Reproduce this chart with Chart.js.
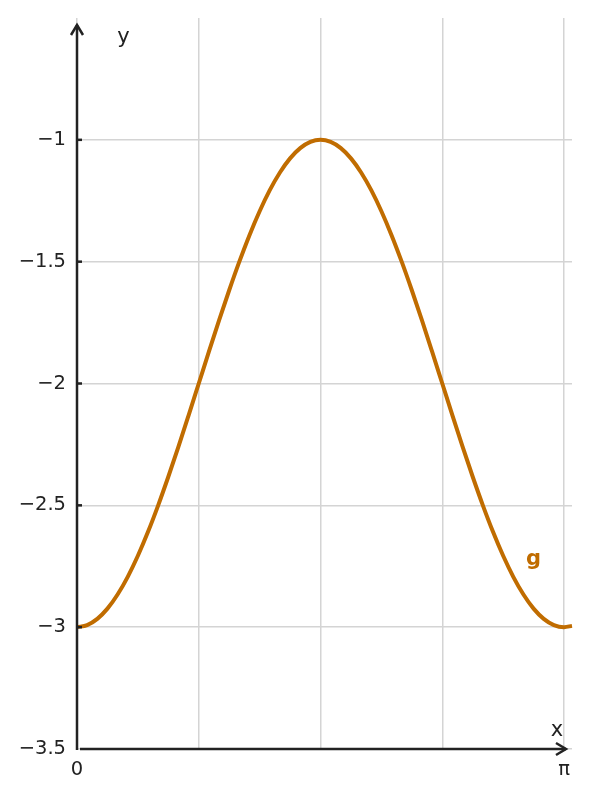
<!DOCTYPE html>
<html><head><meta charset="utf-8">
<script src="https://cdn.jsdelivr.net/npm/chart.js@4"></script>
<style>html,body{margin:0;padding:0;background:#fff}#wrap{width:591px;height:797px}</style>
</head><body><div id="wrap"><canvas id="c"></canvas></div>
<script>
// x values (radians) and g(x) values
const xValues = [0,0.0654,0.1309,0.1963,0.2618,0.3272,0.3927,0.4581,0.5236,0.5890,0.6545,0.7199,0.7854,0.8508,0.9163,0.9817,1.0472,1.1126,1.1781,1.2435,1.3090,1.3744,1.4399,1.5053,1.5708,1.6362,1.7017,1.7671,1.8326,1.8980,1.9635,2.0289,2.0944,2.1598,2.2253,2.2907,2.3562,2.4216,2.4871,2.5525,2.6180,2.6834,2.7489,2.8143,2.8798,2.9452,3.0107,3.0761,3.1416,3.193];
const gValues = [-3,-2.9914,-2.9659,-2.9239,-2.8660,-2.7934,-2.7071,-2.6088,-2.5,-2.3827,-2.2588,-2.1305,-2,-1.8695,-1.7412,-1.6173,-1.5,-1.3912,-1.2929,-1.2066,-1.1340,-1.0761,-1.0341,-1.0086,-1,-1.0086,-1.0341,-1.0761,-1.1340,-1.2066,-1.2929,-1.3912,-1.5,-1.6173,-1.7412,-1.8695,-2,-2.1305,-2.2588,-2.3827,-2.5,-2.6088,-2.7071,-2.7934,-2.8660,-2.9239,-2.9659,-2.9914,-3,-2.9947];
const xGridValues = [0,0.7854,1.5708,2.3562,3.1416];
const xTickLabels = {0:'0',4:'π'};
const yTickValues = [-3.5,-3,-2.5,-2,-1.5,-1];
const yTop = -0.5;
const curveLabel = 'g';

const AXIS = '#222222', TXT = '#222222', CURVE = '#c06c00', GRID = '#d4d4d4';
const FONT = '"DejaVu Sans", sans-serif';
const fmt = v => String(v).replace('-', '\u2212');

const decor = {
  id: 'decor',
  afterDatasetsDraw(chart) {
    const ctx = chart.ctx, xs = chart.scales.x, ys = chart.scales.y;
    const x0 = xs.getPixelForValue(0), yb = ys.getPixelForValue(-3.5);
    ctx.save();
    ctx.strokeStyle = AXIS; ctx.lineWidth = 2.5; ctx.lineCap = 'butt'; ctx.lineJoin = 'miter';
    const yTip = 24, xTip = 567;
    ctx.beginPath(); ctx.moveTo(x0, yb + 1); ctx.lineTo(x0, yTip + 1); ctx.stroke();
    ctx.beginPath(); ctx.moveTo(x0 - 6, yTip + 11); ctx.lineTo(x0, yTip + 1); ctx.lineTo(x0 + 6, yTip + 11); ctx.stroke();
    ctx.beginPath(); ctx.moveTo(x0 + 3, yb); ctx.lineTo(xTip - 1, yb); ctx.stroke();
    ctx.beginPath(); ctx.moveTo(xTip - 11, yb - 6); ctx.lineTo(xTip - 1, yb); ctx.lineTo(xTip - 11, yb + 6); ctx.stroke();
    yTickValues.forEach(v => {
      if (v === -3.5) return;
      const py = ys.getPixelForValue(v);
      ctx.beginPath(); ctx.moveTo(x0, py); ctx.lineTo(x0 + 5, py); ctx.stroke();
    });
    ctx.fillStyle = TXT; ctx.font = '21px ' + FONT; ctx.textAlign = 'center'; ctx.textBaseline = 'alphabetic';
    ctx.fillText('y', 123.5, 43);
    ctx.fillText('x', 557, 736);
    ctx.fillStyle = CURVE; ctx.font = 'bold 21px ' + FONT;
    ctx.fillText(curveLabel, xs.getPixelForValue(2.945), ys.getPixelForValue(-2.745));
    ctx.restore();
  }
};

new Chart(document.getElementById('c'), {
  type: 'scatter',
  data: { datasets: [{
    data: xValues.map((x, i) => ({x, y: gValues[i]})),
    showLine: true, borderColor: CURVE, borderWidth: 4, pointRadius: 0,
    tension: 0.4, cubicInterpolationMode: 'monotone', fill: false, clip: false
  }]},
  options: {
    responsive: true, maintainAspectRatio: false, animation: false,
    devicePixelRatio: 1,
    layout: { padding: { top: 18, right: 19, left: 0, bottom: 0 } },
    plugins: { legend: { display: false }, tooltip: { enabled: false } },
    scales: {
      x: {
        type: 'linear', min: 0, max: 3.193,
        afterBuildTicks: s => { s.ticks = xGridValues.map(v => ({value: v})); },
        afterFit: s => { s.height = 48; s.paddingLeft = 0; s.paddingRight = 0; },
        border: { display: false },
        grid: { color: GRID, lineWidth: 1.5, drawTicks: false },
        ticks: { padding: 9, color: TXT, font: { family: FONT, size: 19.5 }, maxRotation: 0, autoSkip: false,
          callback: (v, i) => xTickLabels[i] || '' }
      },
      y: {
        type: 'linear', min: -3.5, max: yTop,
        afterBuildTicks: s => { s.ticks = yTickValues.map(v => ({value: v})); },
        afterFit: s => { s.width = 77; s.paddingTop = 0; s.paddingBottom = 0; },
        border: { display: false },
        grid: { color: GRID, lineWidth: 1.5, drawTicks: false },
        ticks: { padding: 11, color: TXT, font: { family: FONT, size: 19.5 }, autoSkip: false,
          callback: v => fmt(v) }
      }
    }
  },
  plugins: [decor]
});
</script></body></html>
